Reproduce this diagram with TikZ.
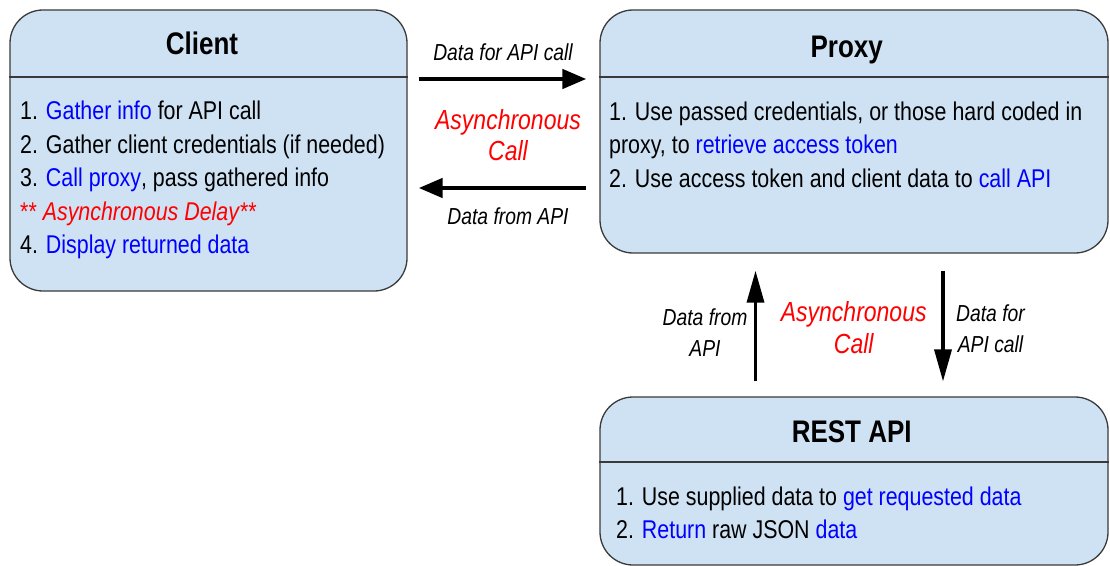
\documentclass[tikz,border=0pt]{standalone}
\usepackage{fontspec}
\setmainfont{Liberation Sans}
\usepackage{xcolor}
\usetikzlibrary{arrows.meta}

\definecolor{boxfill}{HTML}{CFE2F3}
\definecolor{boxline}{HTML}{3A3A3A}
\definecolor{linkblue}{RGB}{0,0,255}
\definecolor{asyncred}{RGB}{255,0,0}

\newcommand{\lnk}[1]{\textcolor{linkblue}{#1}}

\begin{document}
\begin{tikzpicture}[x=1pt, y=-0.83333pt, yscale=1.2,
  box/.style={draw=boxline, line width=1.3pt, fill=boxfill, rounded corners=33pt, inner sep=0pt},
  title/.style={transform shape, inner sep=0pt, anchor=base, font=\fontsize{26}{30}\selectfont\bfseries},
  body/.style={transform shape, inner sep=0pt, anchor=north west, align=left, font=\fontsize{21.4}{27.9}\selectfont},
  lbl/.style={transform shape, inner sep=0pt, align=center, font=\fontsize{19.3}{25.8}\selectfont\itshape},
  async/.style={transform shape, inner sep=0pt, align=center, text=asyncred, font=\fontsize{23}{26.5}\selectfont\itshape},
  hflow/.style={line width=4.5pt, -{Triangle[length=24pt,width=19pt]}},
  vflow/.style={line width=3.5pt, -{Triangle[length=32pt,width=17pt]}}]
\useasboundingbox (0,0) rectangle (1110,566);

% boxes
\node[box, minimum width=397pt, minimum height=281pt] (client) at (208.5,150.5) {};
\node[box, minimum width=508pt, minimum height=243pt] (proxy) at (854,131.5) {};
\node[box, minimum width=508pt, minimum height=168pt] (rest) at (854,481) {};
\draw[boxline, line width=1.3pt] (client.west |- 0,77) -- (client.east |- 0,77);
\draw[boxline, line width=1.3pt] (proxy.west |- 0,77) -- (proxy.east |- 0,77);
\draw[boxline, line width=1.3pt] (rest.west |- 0,462) -- (rest.east |- 0,462);

% titles
\node[title] (clienttitle) at (202,55) {Client};
\node[title] (proxytitle) at (846.7,57.3) {Proxy};
\node[title] (resttitle) at (851.7,442.7) {REST API};

% texts
\node[body] (clienttext) at (20,96) {\strut1. \lnk{Gather info} for API call\\
  2. Gather client credentials (if needed)\\
  3. \lnk{Call proxy}, pass gathered info\\
  \textcolor{asyncred}{** \textit{Asynchronous Delay}**}\\
  4. \lnk{Display returned data}};
\node[body] (proxytext) at (609,96.6) {\strut1. Use passed credentials, or those hard coded in\\
  proxy, to \lnk{retrieve access token}\\
  2. Use access token and client data to \lnk{call API}};
\node[body] (resttext) at (616,481.6) {\strut1. Use supplied data to \lnk{get requested data}\\
  2. \lnk{Return} raw JSON \lnk{data}};

% client <-> proxy
\draw[hflow, shorten <=11pt, shorten >=13pt] (client.east |- 0,79) -- (proxy.west |- 0,79);
\draw[hflow, shorten <=13pt, shorten >=11pt] (proxy.west |- 0,188) -- (client.east |- 0,188);
\node[lbl, anchor=base] (callout) at (503,61) {Data for API call};
\node[lbl, anchor=base] (callback) at (508,224) {Data from API};
\node[async, anchor=base] (asyncone) at (508,161) {Asynchronous\\Call};

% proxy <-> rest api
\draw[vflow, shorten <=15pt, shorten >=17pt] (rest.north -| 755.5,0) -- (proxy.south -| 755.5,0);
\draw[vflow, shorten <=17pt, shorten >=15pt] (proxy.south -| 943,0) -- (rest.north -| 943,0);
\node[lbl, anchor=base] (restback) at (705,356) {Data from\\API};
\node[lbl, anchor=base] (restout) at (990.5,352) {Data for\\API call};
\node[async, anchor=base] (asynctwo) at (853.7,353) {Asynchronous\\Call};
\end{tikzpicture}
\end{document}
